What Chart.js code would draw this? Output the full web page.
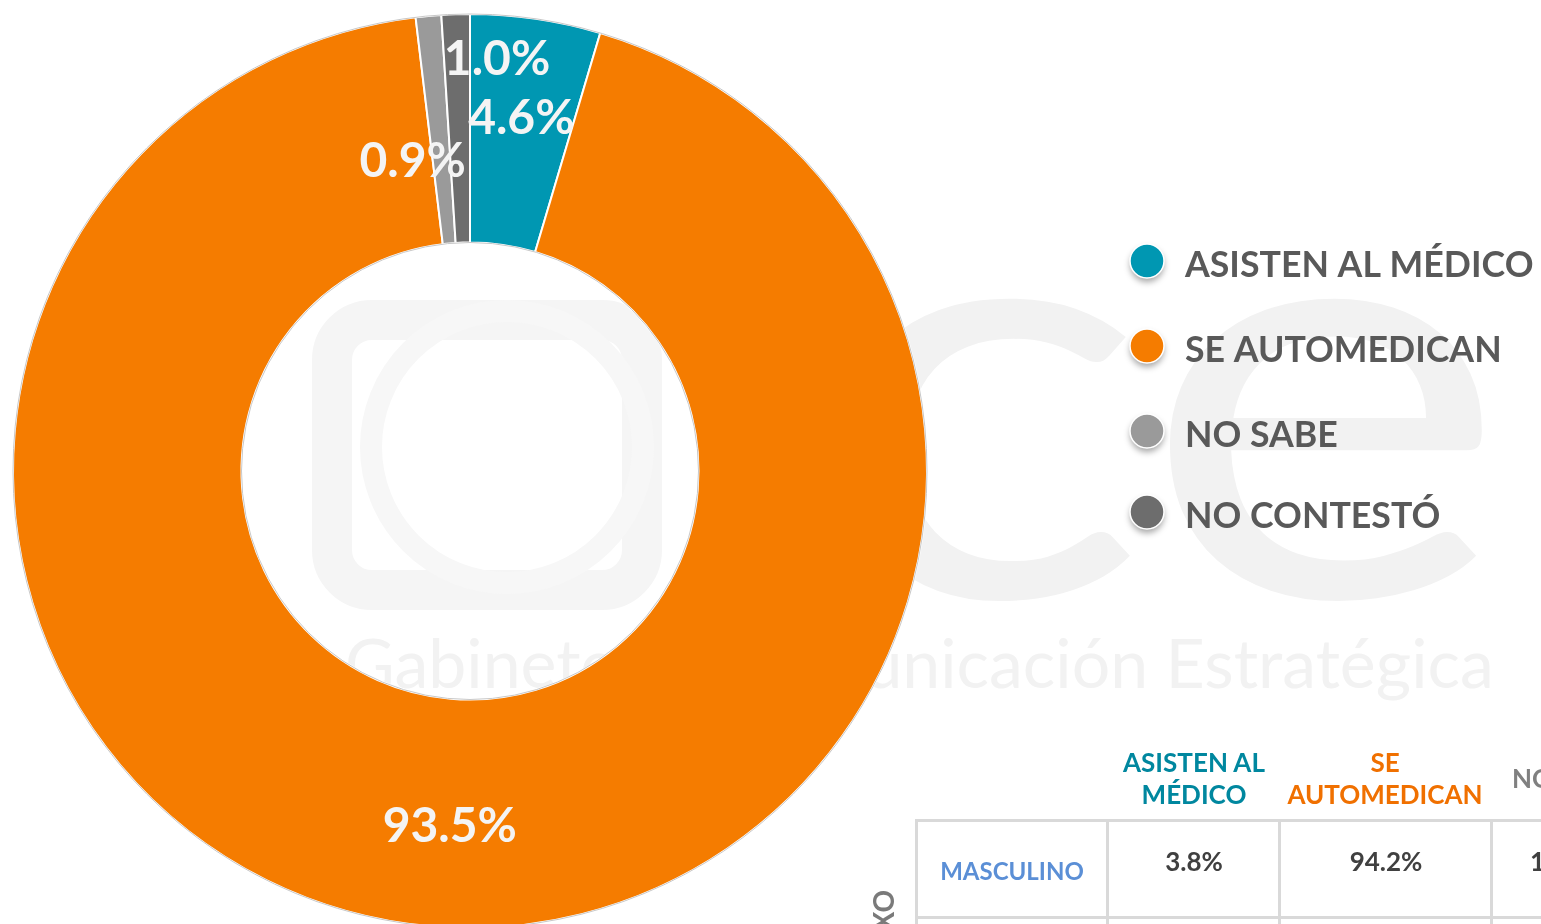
<!DOCTYPE html>
<html>
<head>
<meta charset="utf-8">
<script src="https://cdn.jsdelivr.net/npm/chart.js@4.4.1/dist/chart.umd.min.js"></script>
<style>
  html, body { margin: 0; padding: 0; background: #ffffff; overflow: hidden; }
  body { width: 1541px; height: 924px; position: relative; font-family: Lato, "Noto Sans", sans-serif; }
  #wrap { position: absolute; left: 0; top: 0; width: 1541px; height: 940px; }
  .wm { position: absolute; color: #f2f2f2; font-weight: 400; white-space: nowrap; }
  .tbl { position: absolute; font-weight: 700; text-align: center; white-space: nowrap; }
  .hline { position: absolute; background: #d9d9d9; height: 3px; }
  .vline { position: absolute; background: #d9d9d9; width: 3px; }
</style>
</head>
<body>
<!-- faint watermark behind the chart -->
<div style="position:absolute; left:312px; top:300px; width:270px; height:230px; border:40px solid #f5f5f5; border-radius:60px;"></div>
<div style="position:absolute; left:360px; top:300px; width:250px; height:250px; border:22px solid #f7f7f7; border-radius:50%;"></div>
<div class="wm" style="left:815px; top:83px; font-size:580px; line-height:580px; transform:scaleX(1.2); transform-origin:left top;">ce</div>
<div class="wm" style="left:345px; top:612px; font-size:68px; line-height:100px;">Gabinete de Comunicación Estratégica</div>

<div id="wrap"><canvas id="donut" width="1541" height="940"></canvas></div>

<!-- table at the bottom right -->
<div class="tbl" style="left:1094px; top:746px; width:200px; font-size:26px; line-height:32px; color:#00879f;">ASISTEN AL<br>MÉDICO</div>
<div class="tbl" style="left:1275px; top:746px; width:220px; font-size:26px; line-height:32px; color:#f07000;">SE<br>AUTOMEDICAN</div>
<div class="tbl" style="left:1512px; top:762px; font-size:26px; line-height:32px; color:#808080; text-align:left;">NO SABE</div>
<div class="hline" style="left:915px; top:819px; width:626px;"></div>
<div class="hline" style="left:915px; top:916px; width:626px;"></div>
<div class="vline" style="left:915px; top:819px; height:105px;"></div>
<div class="vline" style="left:1106px; top:819px; height:105px;"></div>
<div class="vline" style="left:1278px; top:819px; height:105px;"></div>
<div class="vline" style="left:1490px; top:819px; height:105px;"></div>
<div class="tbl" style="left:918px; top:856px; width:188px; font-size:24px; color:#5b8fd6;">MASCULINO</div>
<div class="tbl" style="left:1109px; top:845px; width:170px; font-size:26px; color:#404040;">3.8%</div>
<div class="tbl" style="left:1281px; top:845px; width:210px; font-size:26px; color:#404040;">94.2%</div>
<div class="tbl" style="left:1530px; top:845px; font-size:26px; color:#404040; text-align:left;">1.0%</div>
<div class="tbl" style="left:866px; top:962px; font-size:28px; color:#7a7a7a; transform:rotate(-90deg); transform-origin:left top;">SEXO</div>

<script>
const labels = ["ASISTEN AL MÉDICO", "SE AUTOMEDICAN", "NO SABE", "NO CONTESTÓ"];
const values = [4.6, 93.5, 0.9, 1.0];
const colors = ["#0097b2", "#f57c00", "#9a9a9a", "#6d6d6d"];

// where each percentage label sits: fraction of outer radius, and a sideways nudge
const labelRadius = [0.78, 0.78, 0.68, 0.9];
const labelShiftX = [0, 10, -29, 40];

const FONT = "Lato, 'Noto Sans', sans-serif";

const donutLabels = {
  id: "donutLabels",
  afterDatasetsDraw(chart) {
    const ctx = chart.ctx;
    const meta = chart.getDatasetMeta(0);
    ctx.save();
    // thin grey outline on the ring edges
    const a0 = meta.data[0].getProps(["x", "y", "outerRadius", "innerRadius"], true);
    ctx.strokeStyle = "#c8c8c8";
    ctx.lineWidth = 1;
    ctx.beginPath();
    ctx.arc(a0.x, a0.y, a0.outerRadius, 0, Math.PI * 2);
    ctx.stroke();
    ctx.beginPath();
    ctx.arc(a0.x, a0.y, a0.innerRadius, 0, Math.PI * 2);
    ctx.stroke();

    ctx.fillStyle = "#f4f4f4";
    ctx.font = "700 48px " + FONT;
    ctx.textAlign = "center";
    ctx.textBaseline = "middle";
    meta.data.forEach((arc, i) => {
      const p = arc.getProps(["x", "y", "startAngle", "endAngle", "outerRadius"], true);
      const mid = (p.startAngle + p.endAngle) / 2;
      const r = p.outerRadius * labelRadius[i];
      const x = p.x + Math.cos(mid) * r + labelShiftX[i];
      const y = p.y + Math.sin(mid) * r;
      ctx.fillText(values[i].toFixed(1) + "%", x, y);
    });
    ctx.restore();
  }
};

const sideLegend = {
  id: "sideLegend",
  afterDraw(chart) {
    const ctx = chart.ctx;
    const rowsY = [261, 346, 431, 512];
    ctx.save();
    labels.forEach((lab, i) => {
      const y = rowsY[i];
      ctx.save();
      ctx.shadowColor = "rgba(0,0,0,0.35)";
      ctx.shadowBlur = 6;
      ctx.shadowOffsetY = 4;
      ctx.fillStyle = colors[i];
      ctx.beginPath();
      ctx.arc(1147, y, 17, 0, Math.PI * 2);
      ctx.fill();
      ctx.restore();
      ctx.strokeStyle = "#ffffff";
      ctx.lineWidth = 1.5;
      ctx.beginPath();
      ctx.arc(1147, y, 17, 0, Math.PI * 2);
      ctx.stroke();

      ctx.fillStyle = "#595959";
      ctx.font = "700 35.7px " + FONT;
      ctx.textAlign = "left";
      ctx.textBaseline = "middle";
      ctx.fillText(lab, 1185, y + 4);
    });
    ctx.restore();
  }
};

new Chart(document.getElementById("donut"), {
  type: "doughnut",
  data: {
    labels,
    datasets: [{
      data: values,
      backgroundColor: colors,
      borderColor: "#ffffff",
      borderWidth: 2,
      hoverOffset: 0
    }]
  },
  options: {
    responsive: false,
    maintainAspectRatio: false,
    animation: false,
    cutout: "50%",
    layout: { padding: { left: 12, top: 13, right: 613, bottom: 11 } },
    plugins: {
      legend: { display: false },
      tooltip: { enabled: false }
    }
  },
  plugins: [donutLabels, sideLegend]
});
</script>
</body>
</html>
